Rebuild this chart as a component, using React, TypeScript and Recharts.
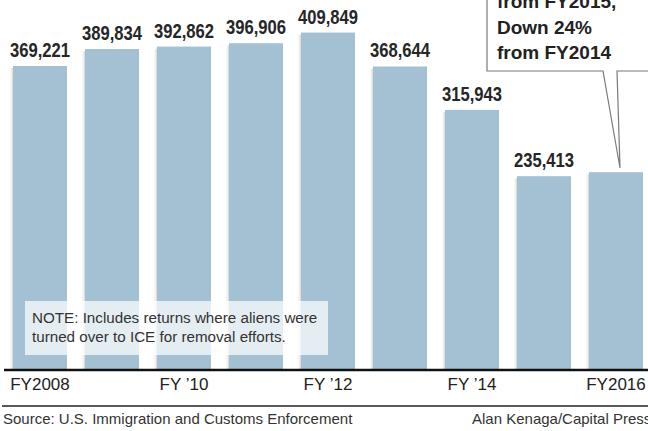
import React from 'react';
import { BarChart, Bar, XAxis, YAxis, LabelList } from 'recharts';

// fiscal years and removals
const years = ['FY2008', 'FY2009', 'FY2010', 'FY2011', 'FY2012', 'FY2013', 'FY2014', 'FY2015', 'FY2016'];
const removals = [369221, 389834, 392862, 396906, 409849, 368644, 315943, 235413, 240255];
const tickLabels = ['FY2008', '', 'FY \u201910', '', 'FY \u201912', '', 'FY \u201914', '', 'FY2016'];
// last bar value is hidden behind the callout
const showLabel = [true, true, true, true, true, true, true, true, false];
const calloutLines = ['from FY2015,', 'Down 24%', 'from FY2014'];
const noteLines = ['NOTE: Includes returns where aliens were', 'turned over to ICE for removal efforts.'];

const data = years.map((year, i) => ({ year, value: removals[i], show: showLabel[i] }));

const BAR_COLOR = '#a3c1d2';
const SANS = '"Liberation Sans", Arial, sans-serif';

const ValueLabel = (props: any) => {
  const { x, y, width, index } = props;
  if (!data[index].show) return null;
  return (
    <text
      x={x + width / 2}
      y={y - 9}
      textAnchor="middle"
      fontFamily={SANS}
      fontWeight="bold"
      fontSize={20}
      fill="#262626"
      textLength={60}
      lengthAdjust="spacingAndGlyphs"
    >
      {removals[index].toLocaleString('en-US')}
    </text>
  );
};

const ShadowBar = (props: any) => {
  const { x, y, width, height, fill } = props;
  return (
    <g>
      <rect x={x - 4} y={y + 2} width={4} height={height - 2} fill="url(#barShadow)" />
      <rect x={x} y={y} width={width} height={height} fill={fill} />
    </g>
  );
};

export default function App() {
  return (
    <div style={{ position: 'absolute', left: 0, top: 0, width: 648, height: 431, overflow: 'hidden', background: '#fff' }}>
      <BarChart width={652} height={431} data={data} margin={{ top: 0, right: 0, bottom: 0, left: 4 }}>
        <defs>
          <linearGradient id="barShadow" x1="0" y1="0" x2="1" y2="0">
            <stop offset="0%" stopColor="#ffffff" stopOpacity={0} />
            <stop offset="100%" stopColor="#c8c8c8" stopOpacity={0.8} />
          </linearGradient>
        </defs>
        <YAxis hide domain={[0, 449400]} />
        <XAxis
          dataKey="year"
          height={61}
          interval={0}
          tickLine={false}
          tickMargin={2}
          axisLine={{ stroke: '#111', strokeWidth: 2.5 }}
          tickFormatter={(v: string) => tickLabels[years.indexOf(v)]}
          tick={{ fontFamily: SANS, fontSize: 17, fill: '#222' }}
        />
        <Bar dataKey="value" fill={BAR_COLOR} barSize={54} shape={<ShadowBar />} isAnimationActive={false}>
          <LabelList dataKey="value" content={<ValueLabel />} />
        </Bar>
      </BarChart>
      <svg
        width={648}
        height={431}
        style={{ position: 'absolute', left: 0, top: 0, pointerEvents: 'none' }}
      >
        {/* note */}
        <rect x={25} y={301} width={303} height={54} fill="#ffffff" fillOpacity={0.7} />
        {noteLines.map((t, i) => (
          <text key={t} x={32} y={323 + i * 19} fontFamily={SANS} fontSize={15.2} fill="#333">
            {t}
          </text>
        ))}
        {/* callout */}
        <path
          d="M487,-60 L660,-60 L660,71 L617,71 L620,168 L603,71 L487,71 Z"
          fill="#fff"
          stroke="#7a7a7a"
          strokeWidth={1.2}
        />
        {calloutLines.map((t, i) => (
          <text
            key={t}
            x={497}
            y={8 + i * 25.5}
            fontFamily={SANS}
            fontWeight="bold"
            fontSize={19}
            fill="#222"
          >
            {t}
          </text>
        ))}
        {/* footer */}
        <line x1={2} y1={406} x2={648} y2={406} stroke="#222" strokeWidth={1.3} />
        <text x={3} y={424} fontFamily={SANS} fontSize={15} fill="#333">
          Source: U.S. Immigration and Customs Enforcement
        </text>
        <text x={472} y={424} fontFamily={SANS} fontSize={15} fill="#333">
          Alan Kenaga/Capital Press
        </text>
      </svg>
    </div>
  );
}
